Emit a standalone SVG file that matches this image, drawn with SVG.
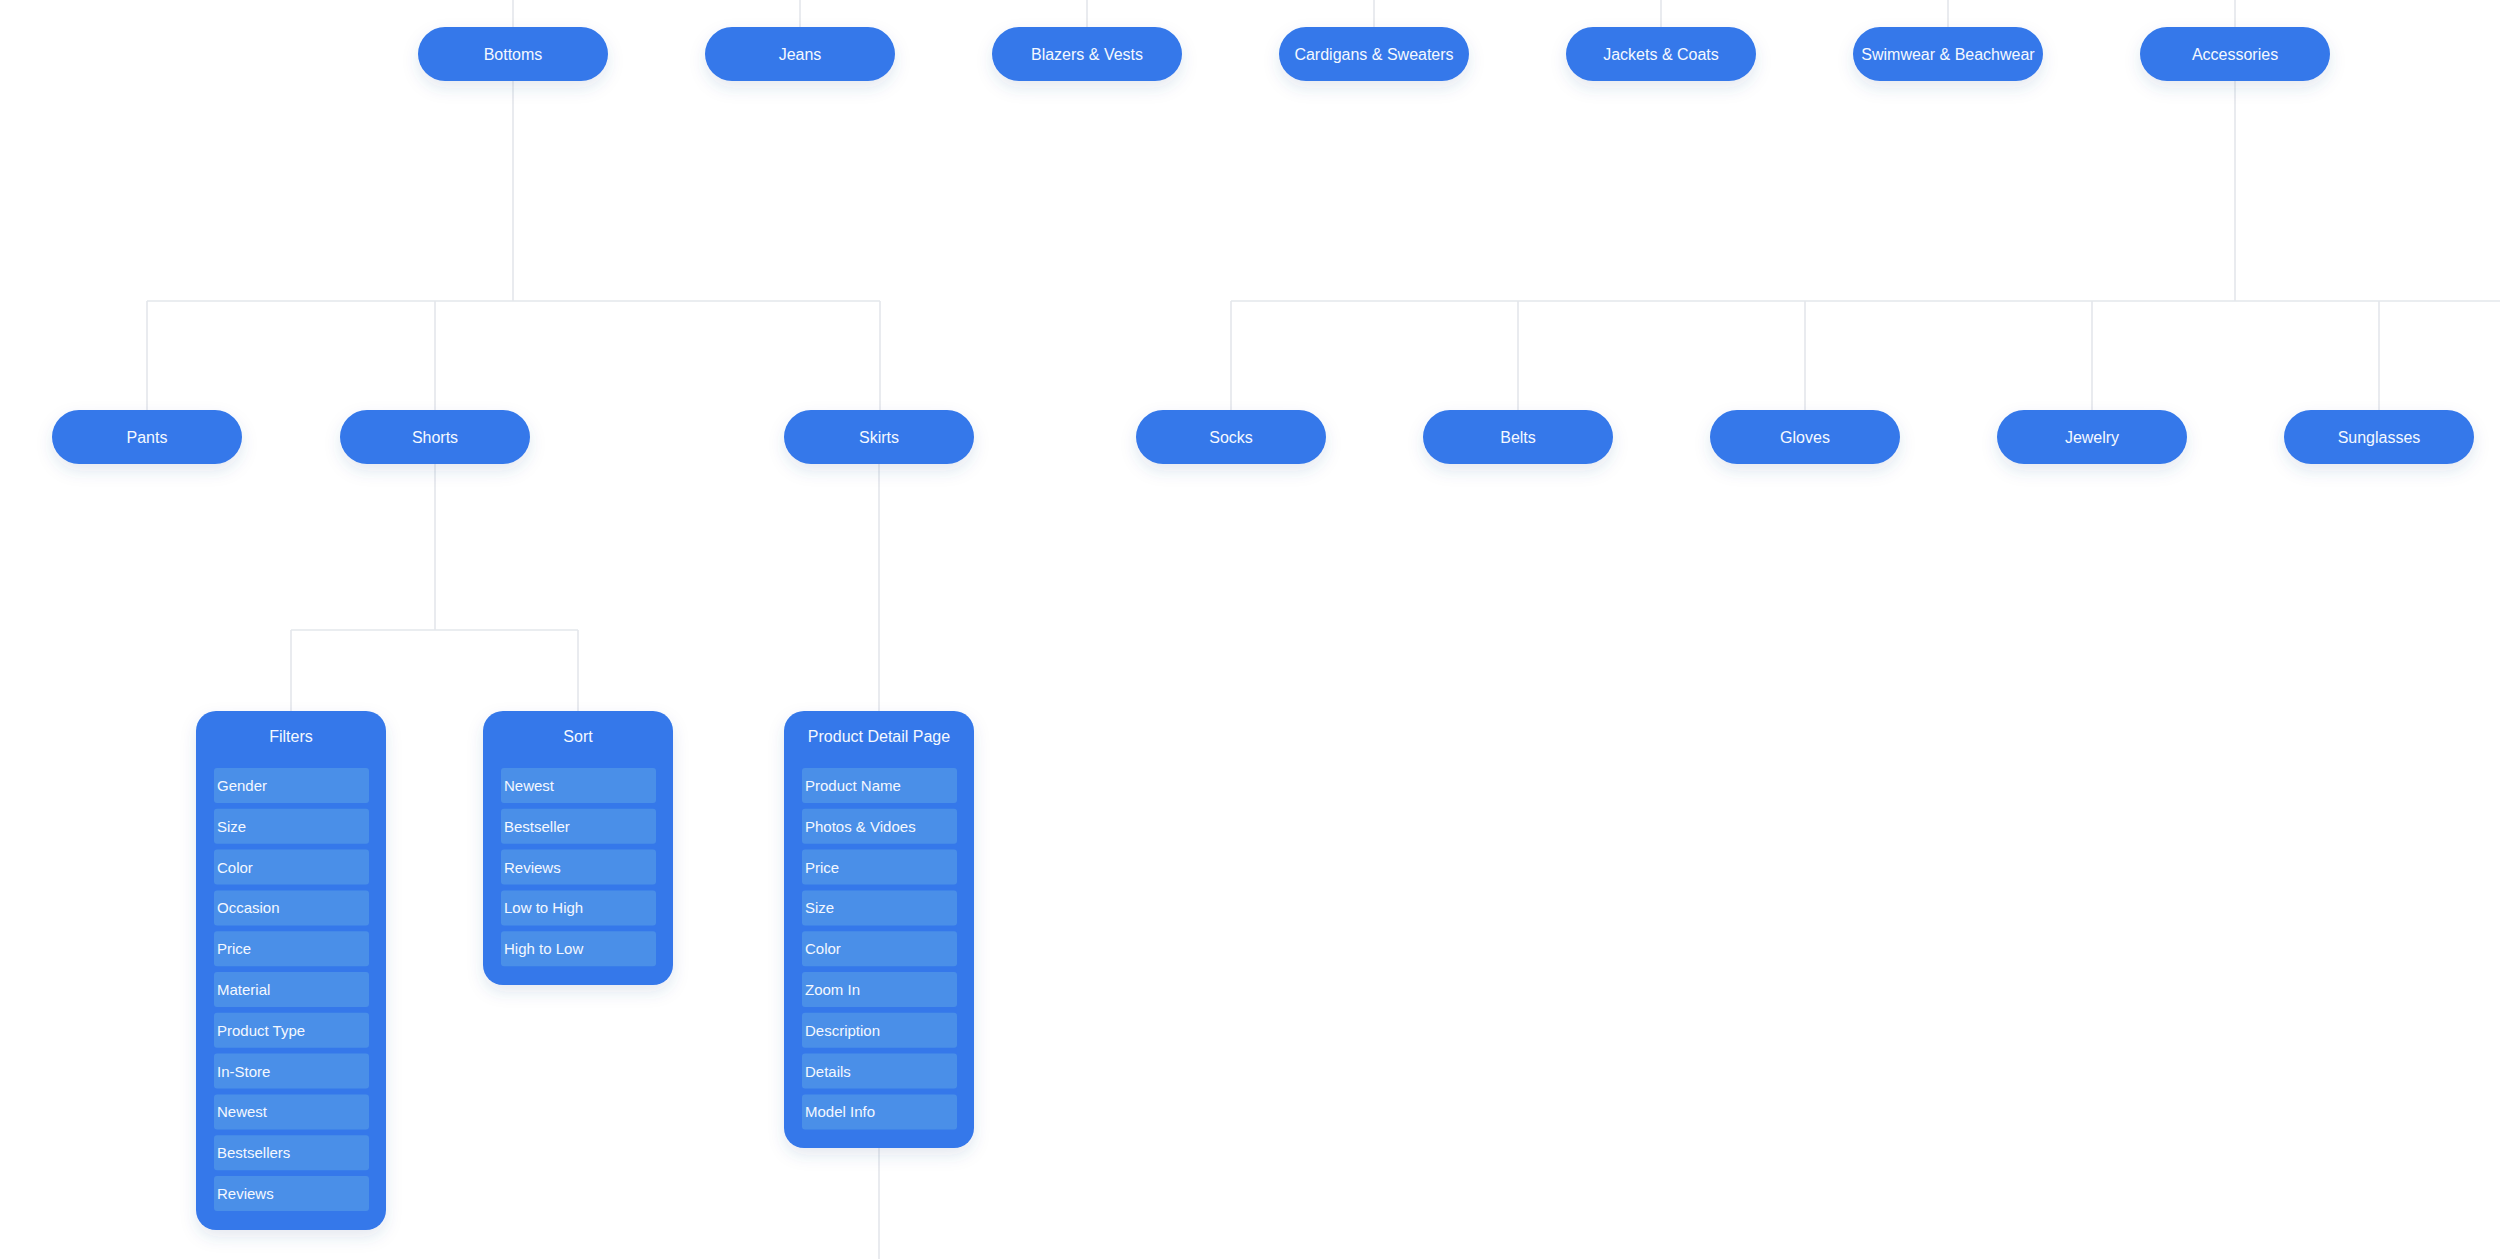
<svg xmlns="http://www.w3.org/2000/svg" width="2500" height="1259" viewBox="0 0 2500 1259">
<defs>
<style>
.pill{fill:#3578ea;filter:url(#sh)}
.card{fill:#3578ea;filter:url(#sh)}
.item{fill:#4a8fe8}
.pt{font-family:"Liberation Sans",Arial,sans-serif;font-size:16px;fill:#f4f8ff;text-anchor:middle}
.it{font-family:"Liberation Sans",Arial,sans-serif;font-size:15px;fill:#f4f8ff}
.con{stroke:#e4e7ec;stroke-width:1.6;fill:none}
</style>
<filter id="sh" x="-30%" y="-30%" width="160%" height="180%">
<feDropShadow dx="0" dy="7" stdDeviation="8" flood-color="#2d4f8f" flood-opacity="0.13"/>
</filter>
</defs>
<rect width="2500" height="1259" fill="#ffffff"/>
<g id="connectors" class="con">
<path d="M513 0V27M800 0V27M1087 0V27M1374 0V27M1661 0V27M1948 0V27M2235 0V27"/>
<path d="M513 81V301M147 301H880M147 301V410M435 301V410M880 301V410"/>
<path d="M2235 81V301M1231 301H2500M1231 301V410M1518 301V410M1805 301V410M2092 301V410M2379 301V410"/>
<path d="M435 464V630M291 630H578M291 630V711M578 630V711"/>
<path d="M879 464V711M879 1148V1259"/>
</g>
<g id="n-bottoms"><rect class="pill" x="418" y="27" width="190" height="54" rx="27"/><text class="pt" x="513" y="59.5">Bottoms</text></g>
<g id="n-jeans"><rect class="pill" x="705" y="27" width="190" height="54" rx="27"/><text class="pt" x="800" y="59.5">Jeans</text></g>
<g id="n-blazers"><rect class="pill" x="992" y="27" width="190" height="54" rx="27"/><text class="pt" x="1087" y="59.5">Blazers &amp; Vests</text></g>
<g id="n-cardigans"><rect class="pill" x="1279" y="27" width="190" height="54" rx="27"/><text class="pt" x="1374" y="59.5">Cardigans &amp; Sweaters</text></g>
<g id="n-jackets"><rect class="pill" x="1566" y="27" width="190" height="54" rx="27"/><text class="pt" x="1661" y="59.5">Jackets &amp; Coats</text></g>
<g id="n-swimwear"><rect class="pill" x="1853" y="27" width="190" height="54" rx="27"/><text class="pt" x="1948" y="59.5">Swimwear &amp; Beachwear</text></g>
<g id="n-accessories"><rect class="pill" x="2140" y="27" width="190" height="54" rx="27"/><text class="pt" x="2235" y="59.5">Accessories</text></g>
<g id="n-pants"><rect class="pill" x="52" y="410" width="190" height="54" rx="27"/><text class="pt" x="147" y="442.5">Pants</text></g>
<g id="n-shorts"><rect class="pill" x="340" y="410" width="190" height="54" rx="27"/><text class="pt" x="435" y="442.5">Shorts</text></g>
<g id="n-skirts"><rect class="pill" x="784" y="410" width="190" height="54" rx="27"/><text class="pt" x="879" y="442.5">Skirts</text></g>
<g id="n-socks"><rect class="pill" x="1136" y="410" width="190" height="54" rx="27"/><text class="pt" x="1231" y="442.5">Socks</text></g>
<g id="n-belts"><rect class="pill" x="1423" y="410" width="190" height="54" rx="27"/><text class="pt" x="1518" y="442.5">Belts</text></g>
<g id="n-gloves"><rect class="pill" x="1710" y="410" width="190" height="54" rx="27"/><text class="pt" x="1805" y="442.5">Gloves</text></g>
<g id="n-jewelry"><rect class="pill" x="1997" y="410" width="190" height="54" rx="27"/><text class="pt" x="2092" y="442.5">Jewelry</text></g>
<g id="n-sunglasses"><rect class="pill" x="2284" y="410" width="190" height="54" rx="27"/><text class="pt" x="2379" y="442.5">Sunglasses</text></g>
<g id="n-filters">
<rect class="card" x="196" y="711" width="190" height="519" rx="20"/>
<text class="pt" x="291" y="742">Filters</text>
<rect class="item" x="214" y="768" width="155" height="35" rx="3"/><text class="it" x="217" y="791">Gender</text>
<rect class="item" x="214" y="808.8" width="155" height="35" rx="3"/><text class="it" x="217" y="831.8">Size</text>
<rect class="item" x="214" y="849.6" width="155" height="35" rx="3"/><text class="it" x="217" y="872.6">Color</text>
<rect class="item" x="214" y="890.4" width="155" height="35" rx="3"/><text class="it" x="217" y="913.4">Occasion</text>
<rect class="item" x="214" y="931.2" width="155" height="35" rx="3"/><text class="it" x="217" y="954.2">Price</text>
<rect class="item" x="214" y="972" width="155" height="35" rx="3"/><text class="it" x="217" y="995">Material</text>
<rect class="item" x="214" y="1012.8" width="155" height="35" rx="3"/><text class="it" x="217" y="1035.8">Product Type</text>
<rect class="item" x="214" y="1053.6" width="155" height="35" rx="3"/><text class="it" x="217" y="1076.6">In-Store</text>
<rect class="item" x="214" y="1094.4" width="155" height="35" rx="3"/><text class="it" x="217" y="1117.4">Newest</text>
<rect class="item" x="214" y="1135.2" width="155" height="35" rx="3"/><text class="it" x="217" y="1158.2">Bestsellers</text>
<rect class="item" x="214" y="1176" width="155" height="35" rx="3"/><text class="it" x="217" y="1199">Reviews</text>
</g>
<g id="n-sort">
<rect class="card" x="483" y="711" width="190" height="274" rx="20"/>
<text class="pt" x="578" y="742">Sort</text>
<rect class="item" x="501" y="768" width="155" height="35" rx="3"/><text class="it" x="504" y="791">Newest</text>
<rect class="item" x="501" y="808.8" width="155" height="35" rx="3"/><text class="it" x="504" y="831.8">Bestseller</text>
<rect class="item" x="501" y="849.6" width="155" height="35" rx="3"/><text class="it" x="504" y="872.6">Reviews</text>
<rect class="item" x="501" y="890.4" width="155" height="35" rx="3"/><text class="it" x="504" y="913.4">Low to High</text>
<rect class="item" x="501" y="931.2" width="155" height="35" rx="3"/><text class="it" x="504" y="954.2">High to Low</text>
</g>
<g id="n-pdp">
<rect class="card" x="784" y="711" width="190" height="437" rx="20"/>
<text class="pt" x="879" y="742">Product Detail Page</text>
<rect class="item" x="802" y="768" width="155" height="35" rx="3"/><text class="it" x="805" y="791">Product Name</text>
<rect class="item" x="802" y="808.8" width="155" height="35" rx="3"/><text class="it" x="805" y="831.8">Photos &amp; Vidoes</text>
<rect class="item" x="802" y="849.6" width="155" height="35" rx="3"/><text class="it" x="805" y="872.6">Price</text>
<rect class="item" x="802" y="890.4" width="155" height="35" rx="3"/><text class="it" x="805" y="913.4">Size</text>
<rect class="item" x="802" y="931.2" width="155" height="35" rx="3"/><text class="it" x="805" y="954.2">Color</text>
<rect class="item" x="802" y="972" width="155" height="35" rx="3"/><text class="it" x="805" y="995">Zoom In</text>
<rect class="item" x="802" y="1012.8" width="155" height="35" rx="3"/><text class="it" x="805" y="1035.8">Description</text>
<rect class="item" x="802" y="1053.6" width="155" height="35" rx="3"/><text class="it" x="805" y="1076.6">Details</text>
<rect class="item" x="802" y="1094.4" width="155" height="35" rx="3"/><text class="it" x="805" y="1117.4">Model Info</text>
</g>
</svg>
